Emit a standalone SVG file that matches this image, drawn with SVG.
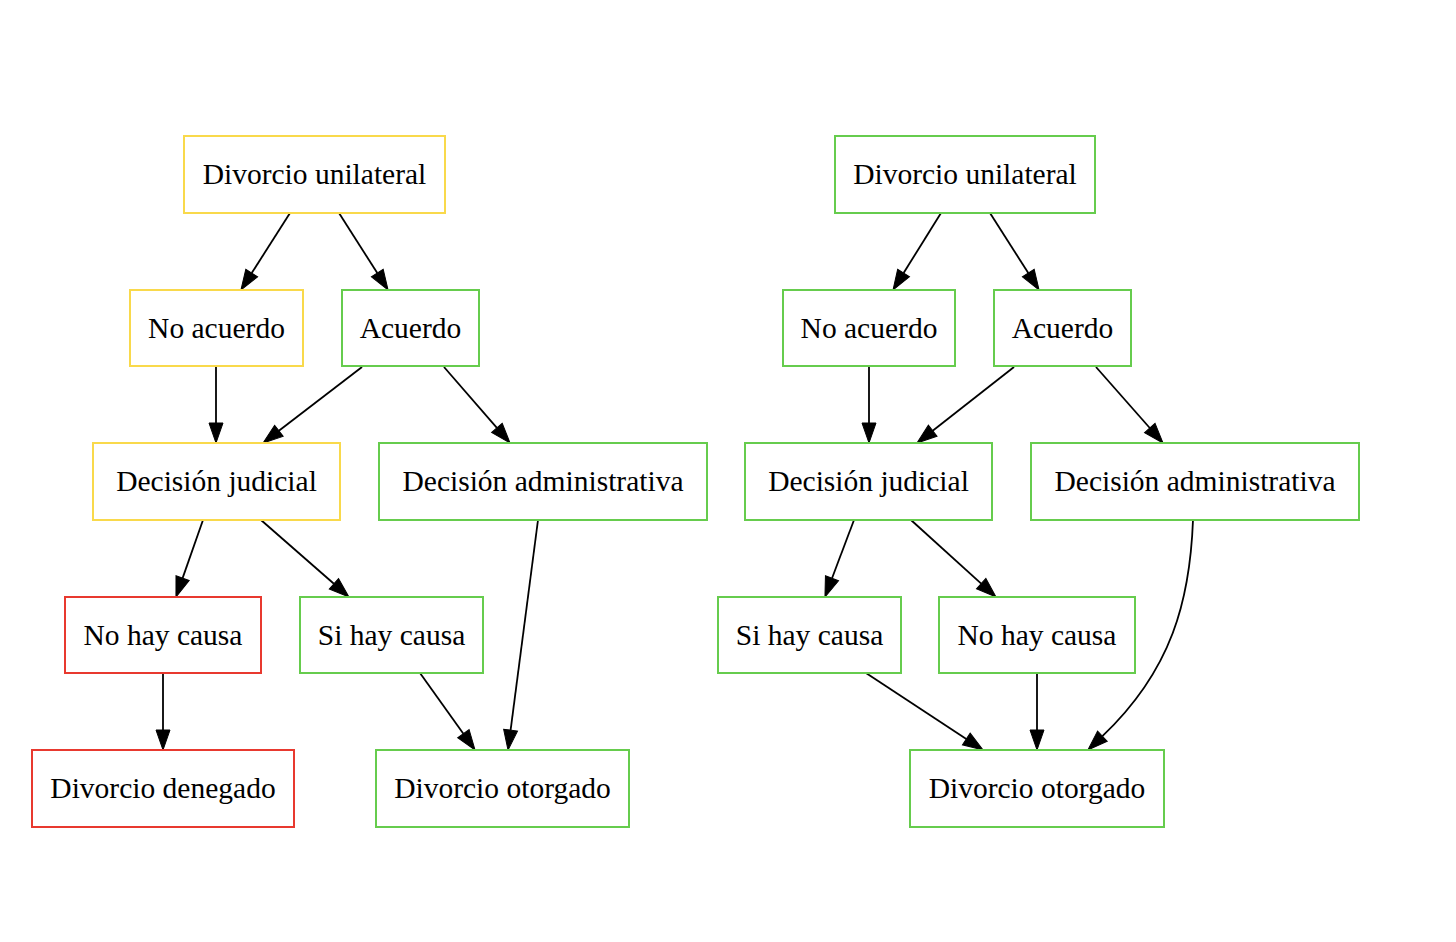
<svg xmlns="http://www.w3.org/2000/svg" width="1456" height="942" viewBox="0 0 1456 942">
<style>
.n rect{fill:#fff;stroke-width:2}
.y rect{stroke:#f9d94b}
.g rect{stroke:#66cc4d}
.r rect{stroke:#e8392f}
.n text{font-family:"Liberation Serif","Times New Roman",serif;font-size:29.5px;fill:#000;text-anchor:middle}
.e path{fill:none;stroke:#000;stroke-width:1.8}
</style>
<defs>
<marker id="ah" markerUnits="userSpaceOnUse" viewBox="0 -7 20 14" refX="0" refY="0" markerWidth="20" markerHeight="14" orient="auto" overflow="visible">
<path d="M0,-7 L20,0 L0,7 z" fill="#000" stroke="#000" stroke-width="1"/>
</marker>
</defs>
<rect width="1456" height="942" fill="#fff"/>
<g id="edges" class="e" marker-end="url(#ah)">
<path d="M290,213 L251.7,273.1" marker-end="url(#ah)"/>
<path d="M339,213 L377.3,273.1" marker-end="url(#ah)"/>
<path d="M216,366 L216,423" marker-end="url(#ah)"/>
<path d="M362,367 L278.9,430.8" marker-end="url(#ah)"/>
<path d="M444,367 L496.9,427.9" marker-end="url(#ah)"/>
<path d="M203,520 L182.6,578.1" marker-end="url(#ah)"/>
<path d="M261,520 L333.9,583.8" marker-end="url(#ah)"/>
<path d="M538,520 L510.6,730.2" marker-end="url(#ah)"/>
<path d="M163,673 L163,730" marker-end="url(#ah)"/>
<path d="M420,673 L463.4,733.7" marker-end="url(#ah)"/>
<path d="M941,213 L903.6,273" marker-end="url(#ah)"/>
<path d="M990,213 L1028.3,273.1" marker-end="url(#ah)"/>
<path d="M869,366 L869,423" marker-end="url(#ah)"/>
<path d="M1014,367 L932.7,430.7" marker-end="url(#ah)"/>
<path d="M1096,367 L1149.8,428" marker-end="url(#ah)"/>
<path d="M854,520 L832,578.3" marker-end="url(#ah)"/>
<path d="M911,520 L981.2,583.6" marker-end="url(#ah)"/>
<path d="M866,673 L966.3,739" marker-end="url(#ah)"/>
<path d="M1037,673 L1037,730" marker-end="url(#ah)"/>
<path d="M1193,520 C1190,600 1172,670 1102.4,736.2" marker-end="url(#ah)"/>
</g>
<g id="L_divorcio_unilateral" class="n y"><rect x="184" y="136" width="261" height="77"/><text x="314.5" y="184">Divorcio unilateral</text></g>
<g id="L_no_acuerdo" class="n y"><rect x="130" y="290" width="173" height="76"/><text x="216.5" y="337.5">No acuerdo</text></g>
<g id="L_acuerdo" class="n g"><rect x="342" y="290" width="137" height="76"/><text x="410.5" y="337.5">Acuerdo</text></g>
<g id="L_decision_judicial" class="n y"><rect x="93" y="443" width="247" height="77"/><text x="216.5" y="491">Decisión judicial</text></g>
<g id="L_decision_administrativa" class="n g"><rect x="379" y="443" width="328" height="77"/><text x="543" y="491">Decisión administrativa</text></g>
<g id="L_no_hay_causa" class="n r"><rect x="65" y="597" width="196" height="76"/><text x="163" y="644.5">No hay causa</text></g>
<g id="L_si_hay_causa" class="n g"><rect x="300" y="597" width="183" height="76"/><text x="391.5" y="644.5">Si hay causa</text></g>
<g id="L_divorcio_denegado" class="n r"><rect x="32" y="750" width="262" height="77"/><text x="163" y="798">Divorcio denegado</text></g>
<g id="L_divorcio_otorgado" class="n g"><rect x="376" y="750" width="253" height="77"/><text x="502.5" y="798">Divorcio otorgado</text></g>
<g id="R_divorcio_unilateral" class="n g"><rect x="835" y="136" width="260" height="77"/><text x="965" y="184">Divorcio unilateral</text></g>
<g id="R_no_acuerdo" class="n g"><rect x="783" y="290" width="172" height="76"/><text x="869" y="337.5">No acuerdo</text></g>
<g id="R_acuerdo" class="n g"><rect x="994" y="290" width="137" height="76"/><text x="1062.5" y="337.5">Acuerdo</text></g>
<g id="R_decision_judicial" class="n g"><rect x="745" y="443" width="247" height="77"/><text x="868.5" y="491">Decisión judicial</text></g>
<g id="R_decision_administrativa" class="n g"><rect x="1031" y="443" width="328" height="77"/><text x="1195" y="491">Decisión administrativa</text></g>
<g id="R_si_hay_causa" class="n g"><rect x="718" y="597" width="183" height="76"/><text x="809.5" y="644.5">Si hay causa</text></g>
<g id="R_no_hay_causa" class="n g"><rect x="939" y="597" width="196" height="76"/><text x="1037" y="644.5">No hay causa</text></g>
<g id="R_divorcio_otorgado" class="n g"><rect x="910" y="750" width="254" height="77"/><text x="1037" y="798">Divorcio otorgado</text></g>
</svg>
